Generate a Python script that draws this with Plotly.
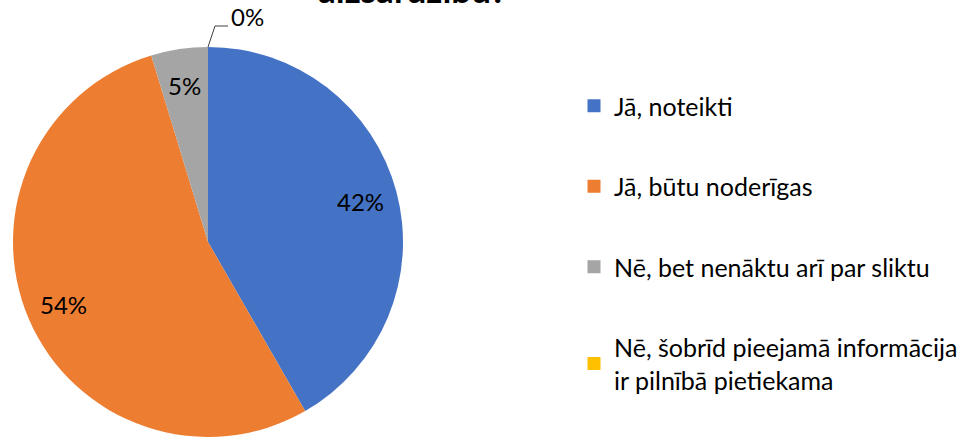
import plotly.graph_objects as go
import math

labels = ["Jā, noteikti", "Jā, būtu noderīgas", "Nē, bet nenāktu arī par sliktu",
          "Nē, šobrīd pieejamā informācija<br>ir pilnībā pietiekama"]
values = [41.7, 53.6, 4.7, 0.0]
colors = ["#4472C4", "#ED7D31", "#A5A5A5", "#FFC000"]
title_text = "aizsardzību?"

W, H = 968, 438
FONT = "Lato, Carlito, Calibri, sans-serif"
LBL = 24
dom_x = [13 / W, 403 / W]
dom_y = [1 / H, 391 / H]

fig = go.Figure()
fig.add_trace(go.Pie(
    labels=labels, values=values, sort=False, direction="clockwise", rotation=0,
    marker=dict(colors=colors, line=dict(color="white", width=0)),
    textinfo="none",
    domain=dict(x=dom_x, y=dom_y), showlegend=False, hoverinfo="label+percent",
))

# legend via dummy traces so the gaps can match
for i, (lab, col) in enumerate(zip(labels, colors)):
    fig.add_trace(go.Scatter(
        x=[None], y=[None], mode="markers", name=lab, legendgroup=str(i),
        marker=dict(symbol="square", size=13, color=col),
    ))

# pie geometry in pixels
cx = (dom_x[0] + dom_x[1]) / 2 * W
cy = (1 - (dom_y[0] + dom_y[1]) / 2) * H
r_px = (dom_y[1] - dom_y[0]) * H / 2
total = sum(values)

def pt(frac, rr):
    a = math.pi / 2 - 2 * math.pi * frac
    return cx + rr * math.cos(a), cy - rr * math.sin(a)

# data labels at ~0.8 r, slice mid-angle
cum = 0.0
for v in values[:3]:
    mid = (cum + v / 2) / total
    x, y = pt(mid, 0.81 * r_px)
    fig.add_annotation(x=x / W, y=1 - y / H, xref="paper", yref="paper",
                       xanchor="center", yanchor="middle",
                       text=f"{v / total:.0%}", showarrow=False,
                       font=dict(family=FONT, size=LBL, color="#000000"))
    cum += v

# zero-slice label with leader line
px0, py0 = pt(sum(values[:3]) / total, r_px)
p1 = (px0 + 7, py0 - 21)
p2 = (p1[0] + 13, p1[1])
fig.add_shape(type="path",
              path=f"M {px0/W} {1-py0/H} L {p1[0]/W} {1-p1[1]/H} L {p2[0]/W} {1-p2[1]/H}",
              xref="paper", yref="paper", line=dict(color="#404040", width=1))
fig.add_annotation(x=p2[0] / W, y=1 - p2[1] / H, xref="paper", yref="paper",
                   text=f"{values[3] / total:.0%}", showarrow=False, xanchor="left", yanchor="middle",
                   xshift=1, yshift=9,
                   font=dict(family=FONT, size=LBL, color="#000000"))

fig.add_annotation(x=412 / W, y=1 - 12 / H, xref="paper", yref="paper", text=f"<b>{title_text}</b>",
                   showarrow=False, xanchor="center", yanchor="bottom",
                   font=dict(family=FONT, size=35, color="#000000"))

fig.update_layout(
    width=W, height=H, margin=dict(l=0, r=0, t=0, b=0),
    paper_bgcolor="white", plot_bgcolor="white",
    xaxis=dict(visible=False), yaxis=dict(visible=False),
    legend=dict(x=574 / W, y=1 - 83 / H, xanchor="left", yanchor="top",
                tracegroupgap=45, itemwidth=30,
                font=dict(family=FONT, size=25, color="#000000"),
                bgcolor="rgba(0,0,0,0)"),
)
fig.write_html("out.html", config={"displayModeBar": False},
               post_script="document.body.style.margin='0';")
